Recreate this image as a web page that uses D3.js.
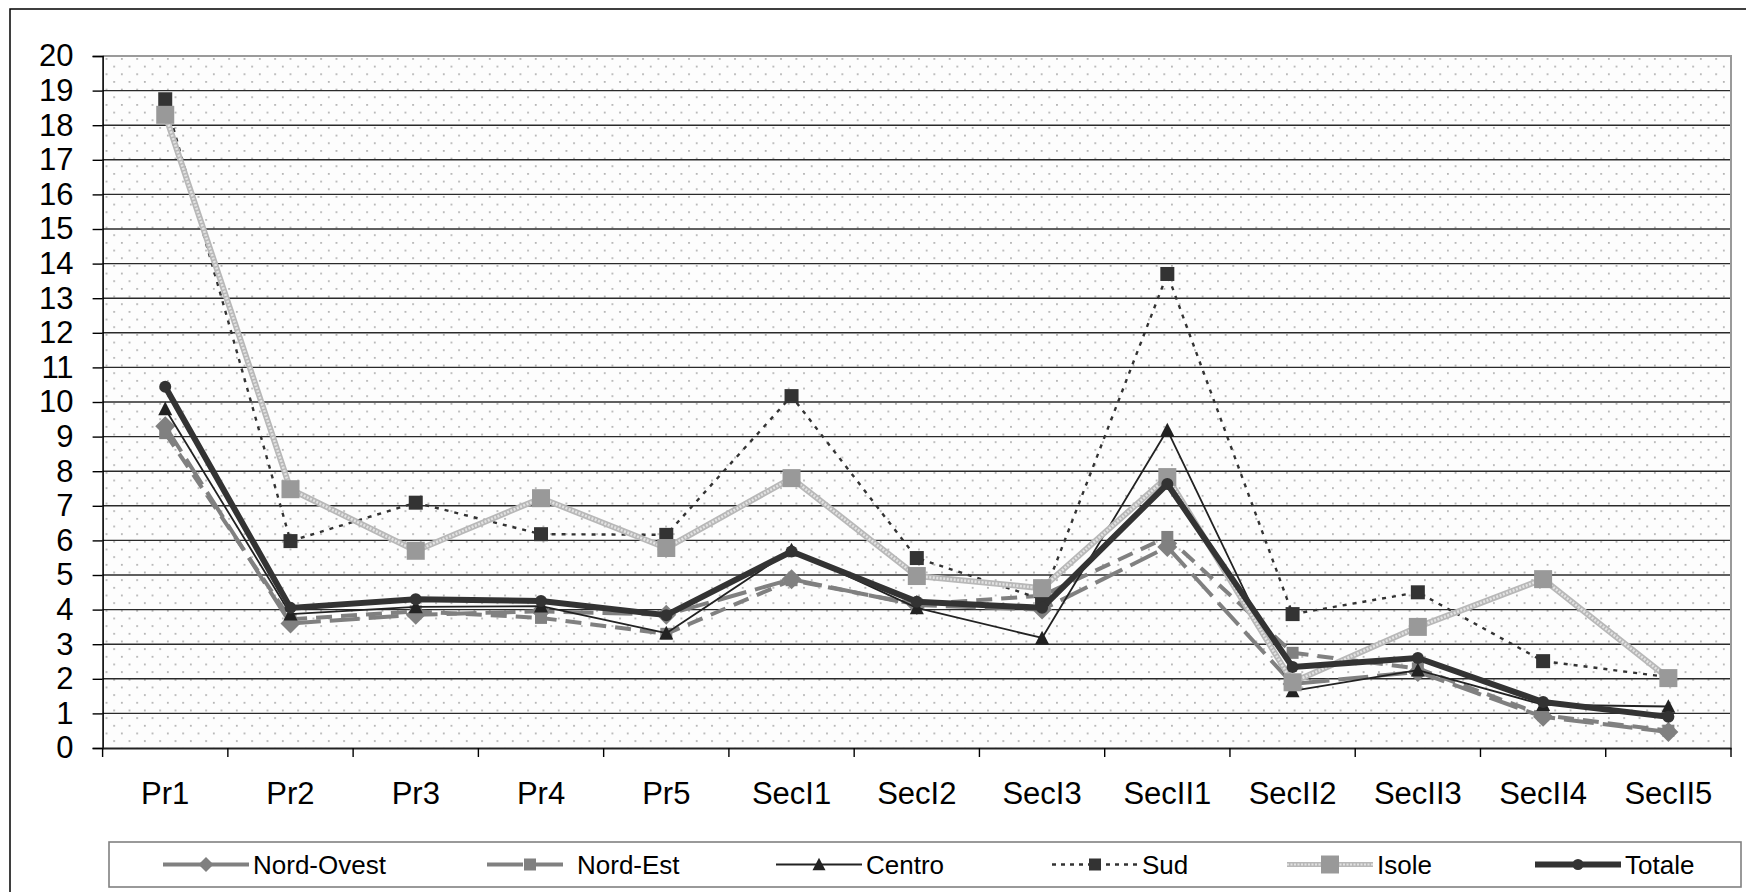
<!DOCTYPE html>
<html><head><meta charset="utf-8">
<script src="https://cdn.jsdelivr.net/npm/d3@7"></script>
<style>
html,body{margin:0;padding:0;background:#fff;}
svg{display:block;}
text{font-family:"Liberation Sans",Arial,sans-serif;fill:#000;}
</style></head>
<body><svg id="chart" width="1746" height="892"></svg>
<script>
const categories = ["Pr1","Pr2","Pr3","Pr4","Pr5","SecI1","SecI2","SecI3","SecII1","SecII2","SecII3","SecII4","SecII5"];
const yTicks = [0,1,2,3,4,5,6,7,8,9,10,11,12,13,14,15,16,17,18,19,20];
const seriesNames = ["Nord-Ovest","Nord-Est","Centro","Sud","Isole","Totale"];
const nordOvest = [9.3, 3.6, 3.85, 3.95, 3.85, 4.88, 4.13, 4.0, 5.81, 1.85, 2.2, 0.9, 0.46];
const nordEst   = [9.1, 3.72, 3.95, 3.76, 3.3, 4.85, 4.15, 4.4, 6.1, 2.75, 2.3, 0.95, 0.5];
const centro    = [9.8, 3.87, 4.08, 4.1, 3.32, 5.72, 4.05, 3.18, 9.19, 1.65, 2.25, 1.25, 1.2];
const sud       = [18.75, 5.98, 7.09, 6.18, 6.16, 10.17, 5.49, 4.3, 13.7, 3.87, 4.5, 2.51, 2.05];
const isole     = [18.3, 7.48, 5.7, 7.22, 5.78, 7.8, 4.97, 4.62, 7.83, 1.9, 3.5, 4.88, 2.02];
const totale    = [10.44, 4.05, 4.3, 4.25, 3.84, 5.68, 4.23, 4.05, 7.63, 2.34, 2.6, 1.33, 0.9];
const seriesValues = [nordOvest, nordEst, centro, sud, isole, totale];

const styles = {
  "Nord-Ovest": {stroke:"#808080", width:4, dash:"30,9", marker:"diamond", msize:20, mfill:"#808080", lmsize:15},
  "Nord-Est":   {stroke:"#808080", width:4, dash:"16,9", marker:"square", msize:12, mfill:"#808080", lmsize:12},
  "Centro":     {stroke:"#222222", width:1.8, dash:null, marker:"triangle", msize:14, mfill:"#222222", lmsize:13},
  "Sud":        {stroke:"#333333", width:2.4, dash:"4,6", marker:"square", msize:14, mfill:"#333333", lmsize:12},
  "Isole":      {stroke:"#b8b8b8", width:6, dash:null, inner:"#e2e2e2", marker:"square", msize:18, mfill:"#999999", lmsize:18},
  "Totale":     {stroke:"#333333", width:6, dash:null, marker:"circle", msize:12, mfill:"#333333", lmsize:11}
};
// legend layout (text start positions)
const legendTextX = [253, 577, 866, 1142, 1377, 1625];

const svg = d3.select("#chart");
const L = 102.6, R = 1731, T = 56, B = 748;

svg.append("rect").attr("x",10).attr("y",9).attr("width",1760).attr("height",900)
  .attr("fill","#fff").attr("stroke","#000").attr("stroke-width",1.5);

const defs = svg.append("defs");
const pat = defs.append("pattern").attr("id","dots").attr("patternUnits","userSpaceOnUse")
  .attr("width",15.33).attr("height",15.33).attr("x",L+3).attr("y",T+2);
pat.append("rect").attr("width",15.33).attr("height",15.33).attr("fill","#fdfdfd");
pat.append("rect").attr("x",0).attr("y",0).attr("width",1.8).attr("height",1.8).attr("fill","#b4b4b4");
pat.append("rect").attr("x",7.66).attr("y",7.66).attr("width",1.8).attr("height",1.8).attr("fill","#b4b4b4");

const x = d3.scaleBand().domain(categories).range([L,R]).paddingInner(0).paddingOuter(0);
const y = d3.scaleLinear().domain([0,20]).range([B,T]);
const cx = c => x(c) + x.bandwidth()/2;

svg.append("rect").attr("x",L).attr("y",T).attr("width",R-L).attr("height",B-T).attr("fill","url(#dots)");

svg.append("g").selectAll("line").data(yTicks.filter(v=>v>0 && v<20)).join("line")
  .attr("x1",L).attr("x2",R).attr("y1",d=>y(d)).attr("y2",d=>y(d))
  .attr("stroke","#2a2a2a").attr("stroke-width",1.4);

svg.append("path").attr("d",`M${L},${T}H${R}V${B}`).attr("fill","none").attr("stroke","#9a9a9a").attr("stroke-width",2);

const yAxis = svg.append("g").attr("transform",`translate(${L},0)`)
  .call(d3.axisLeft(y).tickValues(yTicks).tickSize(10).tickPadding(19).tickFormat(d3.format("d")));
yAxis.select(".domain").attr("stroke","#000").attr("stroke-width",1.6);
yAxis.selectAll(".tick line").attr("stroke","#000").attr("stroke-width",1.4);
yAxis.selectAll("text").attr("font-size",31).attr("font-family","Liberation Sans, Arial, sans-serif").attr("fill","#000");

const xAxis = svg.append("g").attr("transform",`translate(0,${B})`)
  .call(d3.axisBottom(x).tickSize(0).tickPadding(34));
xAxis.select(".domain").attr("stroke","#222").attr("stroke-width",1.8);
xAxis.selectAll("text").attr("font-size",31).attr("font-family","Liberation Sans, Arial, sans-serif").attr("fill","#000");
svg.append("g").selectAll("line").data(d3.range(categories.length+1)).join("line")
  .attr("x1",i=>L+i*x.step()).attr("x2",i=>L+i*x.step()).attr("y1",B).attr("y2",B+9)
  .attr("stroke","#000").attr("stroke-width",1.4);

function drawMarker(g, type, size, fill, px, py) {
  if (type==="diamond") {
    const h=size/2;
    g.append("path").attr("d",`M${px},${py-h}L${px+h},${py}L${px},${py+h}L${px-h},${py}Z`).attr("fill",fill);
  } else if (type==="square") {
    g.append("rect").attr("x",px-size/2).attr("y",py-size/2).attr("width",size).attr("height",size).attr("fill",fill);
  } else if (type==="triangle") {
    const h=size*0.9;
    g.append("path").attr("d",`M${px},${py-h/2-1}L${px+size/2},${py+h/2}L${px-size/2},${py+h/2}Z`).attr("fill",fill);
  } else if (type==="circle") {
    g.append("circle").attr("cx",px).attr("cy",py).attr("r",size/2).attr("fill",fill);
  }
}

const line = d3.line().x((d,i)=>cx(categories[i])).y(d=>y(d));
const plot = svg.append("g");
seriesNames.forEach((name,si)=>{
  const s = styles[name];
  const g = plot.append("g");
  const vals = seriesValues[si];
  g.append("path").datum(vals).attr("d",line).attr("fill","none")
    .attr("stroke",s.stroke).attr("stroke-width",s.width).attr("stroke-dasharray",s.dash)
    .attr("stroke-linejoin","round");
  if (s.inner) {
    g.append("path").datum(vals).attr("d",line).attr("fill","none")
      .attr("stroke",s.inner).attr("stroke-width",2.6).attr("stroke-dasharray","2,1.5");
  }
  vals.forEach((v,i)=>drawMarker(g, s.marker, s.msize, s.mfill, cx(categories[i]), y(v)));
});

svg.append("rect").attr("x",109).attr("y",842).attr("width",1632).attr("height",45)
  .attr("fill","#fff").attr("stroke","#808080").attr("stroke-width",1.6);
const legY = 864.5;
const sampleLen = 86;
seriesNames.forEach((name,i)=>{
  const s = styles[name];
  const g = svg.append("g");
  const tx = legendTextX[i];
  const lx = tx - 4 - sampleLen;
  g.append("line").attr("x1",lx).attr("x2",lx+sampleLen).attr("y1",legY).attr("y2",legY)
    .attr("stroke",s.stroke).attr("stroke-width",name==="Isole"?5:s.width)
    .attr("stroke-dasharray", name==="Nord-Est" ? "36,10,30" : (name==="Sud" ? "4,5" : null));
  if (s.inner) g.append("line").attr("x1",lx).attr("x2",lx+sampleLen).attr("y1",legY).attr("y2",legY)
    .attr("stroke",s.inner).attr("stroke-width",2).attr("stroke-dasharray","2,1.5");
  drawMarker(g, s.marker, s.lmsize, s.mfill, lx+sampleLen/2, legY);
  g.append("text").attr("x",tx).attr("y",legY+9).attr("font-size",26).text(name);
});
</script></body></html>
